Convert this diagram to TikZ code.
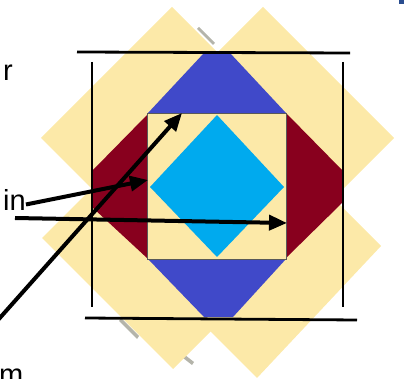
\documentclass[tikz,border=0pt]{standalone}
\usepackage{fontspec}
\setmainfont{Liberation Sans}
\usetikzlibrary{arrows.meta}
\definecolor{qPale}{HTML}{FCE9A8}
\definecolor{qBlue}{HTML}{4049C9}
\definecolor{qMaroon}{HTML}{88001E}
\definecolor{qCyan}{HTML}{00AAEE}
\definecolor{qNavy}{HTML}{2A4D8F}
\definecolor{qShade}{HTML}{B4B4AA}

\begin{document}
\begin{tikzpicture}[x=1pt, y=-1pt,
    patch/.style={fill=qPale},
    rule/.style={line width=2.8pt, black},
    arrow/.style={-{Triangle[length=18pt,width=15pt]}, line width=4pt, black},
    tag/.style={inner sep=0pt, anchor=base west, font=\fontsize{29}{30}\selectfont}
]
    \useasboundingbox (0,0) rectangle (404,379);

    % Shadow edges
    \fill[qShade] (197,29) -- (213,45) -- (215,43) -- (199,27) -- cycle;
    \fill[qShade] (121,318) -- (139,336) -- (137,339) -- (119,321) -- cycle;
    \fill[qShade] (185,355) -- (194,362) -- (192,365) -- (183,358) -- cycle;

    % Outer patches
    \fill[patch] (172,7) -- (303,138) -- (172,269) -- (41,138) -- cycle;
    \fill[patch] (263,7) -- (394,138) -- (263,269) -- (132,138) -- cycle;
    \fill[patch] (173,107) -- (304,238) -- (173,369) -- (42,238) -- cycle;
    \fill[patch] (257,122) -- (381,246) -- (257,378) -- (131,252) -- cycle;

    % Triangles round the centre
    \fill[qBlue] (204,53) -- (230,53) -- (286,113) -- (148,113) -- cycle;
    \fill[qBlue] (148,259) -- (286,259) -- (233,317) -- (204,317) -- cycle;
    \fill[qMaroon] (147,115) -- (93,170) -- (93,208) -- (147,258) -- cycle;
    \fill[qMaroon] (286,113) -- (342,170) -- (342,203) -- (286,258) -- cycle;

    % Centre square and diamond
    \filldraw[patch, draw=gray!70!black, line width=0.8pt] (147,113) rectangle (286,259);
    \fill[qCyan] (217,115) -- (284,187) -- (217,257) -- (150,187) -- cycle;

    % Frame
    \draw[rule] (77,52) -- (350,53);
    \draw[rule] (85,318) -- (357,320);
    \draw[rule] (92,62) -- (92,307);
    \draw[rule] (343,62) -- (343,307);

    % Corner mark
    \fill[qNavy] (399,0) rectangle (404,4);

    % Labels
    \node[tag] (lr) at (3,81) {r};
    \node[tag] (lin) at (3,211) {in};
    \node[tag] (lm) at (-1,384) {m};

    % Arrows
    \coordinate (mstart) at (-2,320);
    \coordinate (istart) at (15,218);
    \coordinate (ttop) at (182,113);
    \coordinate (tleft) at (148,180);
    \coordinate (tright) at (287,223);
    \draw[arrow] (mstart) -- (ttop);
    \draw[arrow] (lin.east) ++(0,-4pt) -- (tleft);
    \draw[arrow] (istart) -- (tright);
\end{tikzpicture}
\end{document}
